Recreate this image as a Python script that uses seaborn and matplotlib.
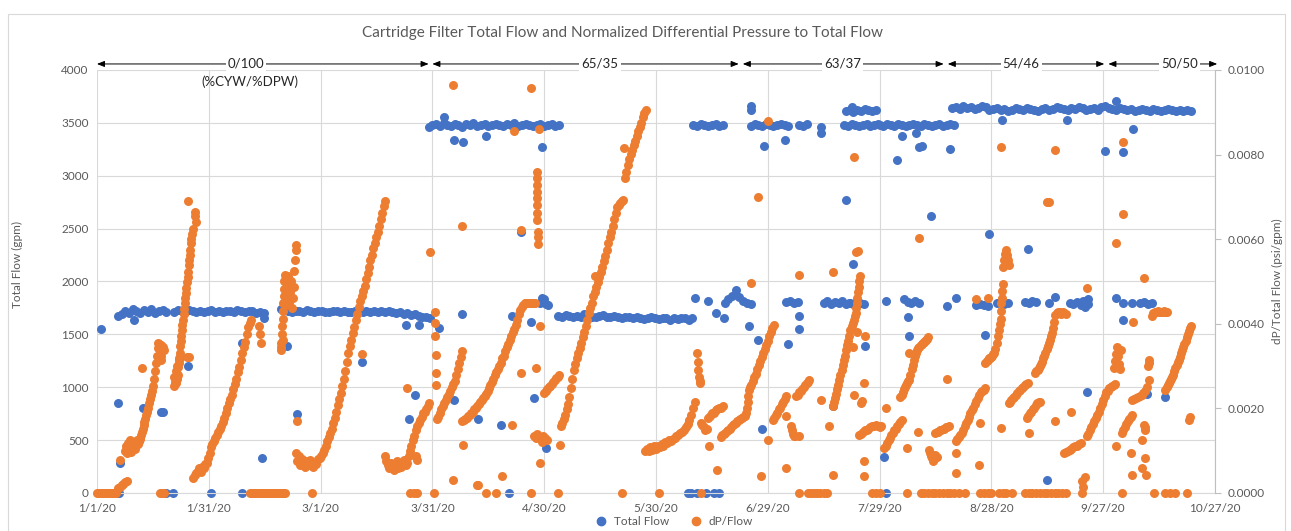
import numpy as np
import pandas as pd
import matplotlib
matplotlib.use('Agg')
import matplotlib.pyplot as plt
import matplotlib.dates as mdates
from matplotlib.lines import Line2D
from matplotlib.patches import Rectangle
import seaborn as sns

# ---- data -------------------------------------------------------------
# days are counted from 1/1/20; runs are (first day, spacing in days, readings)

# Total flow (gpm)
flow_runs = [
    (5.6, 1, [1670, 1690, 1720, 1700, 1740, 1720, 1700, 1730, 1710, 1740, 1700, 1720, 1730, 1710]),
    (20.7, 1, [1710, 1730, 1720, 1710, 1730, 1720, 1715, 1725, 1710, 1720, 1730, 1715, 1720,
               1710, 1725, 1720, 1715, 1730, 1720, 1710, 1725, 1720, 1700, 1715, 1705]),
    (49.3, 1, [1740, 1730, 1720, 1710, 1725, 1720, 1715, 1730, 1720, 1710, 1725, 1720, 1715, 1710,
               1720, 1725, 1715, 1720, 1710, 1715, 1720, 1725, 1715, 1720, 1710, 1720, 1715, 1725,
               1710, 1720, 1715, 1700, 1710, 1690, 1700, 1680, 1690, 1670, 1660, 1660, 1650]),
    (89, 1, [3460, 3480, 3490, 3470, 3500, 3480, 3470, 3490, 3480, 3460, 3490, 3480, 3500, 3470,
             3480, 3490, 3470, 3480, 3490, 3480, 3470, 3490, 3480, 3500, 3470, 3480, 3490, 3480,
             3470, 3480, 3490, 3470, 3480, 3490, 3470, 3480]),
    (119, 0.5, [1800, 1840, 1830, 1790, 1780]),
    (123.8, 1, [1670, 1665, 1680, 1670, 1660, 1675, 1665, 1690, 1670, 1660, 1665, 1670, 1680,
                1660, 1665, 1670, 1660, 1655, 1665, 1660, 1650, 1660, 1655, 1645, 1650, 1660,
                1650, 1645, 1655, 1650, 1640, 1650, 1645, 1655, 1650, 1640, 1650]),
    (160, 1, [3480, 3470, 3490, 3480, 3470, 3480, 3490, 3470, 3480]),
    (168.4, 1, [1800, 1830, 1860, 1920, 1850, 1820, 1800, 1790]),
    (175.5, 1, [3470, 3490, 3480, 3470, 3490, 3480, 3470, 3480, 3490, 3480, 3470]),
    (185, 1, [1810, 1820, 1800, 1810]),
    (188.5, 1, [3480, 3470, 3490]),
    (195, 1, [1800, 1820, 1790, 1810, 1800, 1820, 1790, 1800]),
    (200.5, 1, [3480, 3470, 3490, 3480, 3470, 3480, 3490, 3470, 3480, 3490]),
    (201, 1, [3610, 3620, 3600, 3620, 3610, 3630, 3620, 3610, 3620]),
    (201.8, 1, [1800, 1790, 1810, 1800, 1790]),
    (210, 1, [3480, 3470, 3490, 3480, 3470, 3490, 3480, 3470, 3480, 3490, 3480, 3470, 3490,
              3480, 3470, 3480, 3490, 3470, 3480, 3490, 3480]),
    (216.5, 1, [1830, 1810, 1800, 1820, 1800]),
    (229.5, 1, [3640, 3650, 3630, 3660, 3640, 3650, 3630, 3640, 3660, 3650,
                3620, 3630, 3640, 3620, 3630, 3610, 3620, 3640, 3630, 3620,
                3640, 3630, 3620, 3610, 3630, 3640, 3620, 3630, 3650, 3640,
                3630, 3620, 3640, 3630, 3650, 3640, 3620, 3630, 3640, 3620,
                3650, 3660, 3640, 3630, 3620, 3640, 3630, 3620, 3630, 3610,
                3620, 3630, 3620, 3610, 3630, 3620, 3610, 3620, 3630, 3620,
                3610, 3620, 3610, 3620, 3610]),
    (236, 1, [1780, 1790, 1780, 1770]),
    (241.5, 1, [1800, 1820, 1790, 1800]),
    (249, 1, [1810, 1800, 1820, 1810]),
    (261, 1, [1800, 1790, 1810, 1800, 1820, 1790]),
    (264, 0.5, [1780, 1820, 1760, 1800, 1830]),
    (280, 1, [1800, 1810, 1790, 1800]),
]
flow_spots = [
    (1.1, 1550), (5.6, 850), (6.3, 283), (10, 1640), (12.3, 800), (17.3, 770), (17.7, 770),
    (22.2, 1290), (24.4, 1200), (38.8, 1420), (44.4, 330), (44.8, 1650), (51, 1390),
    (53.7, 750), (71.2, 1240), (83, 1590), (83.6, 700), (85.4, 930), (86.5, 1590),
    (91.8, 1560), (93, 3560), (95.8, 3340), (95.8, 880), (98, 1695), (98.3, 3320),
    (102.2, 700), (104.4, 3380), (108.3, 645), (111.5, 1670), (113.8, 2470), (116.4, 1620),
    (117.3, 900), (119.4, 3270), (120.4, 425), (160.4, 1840), (164, 1820), (166, 1700),
    (168.2, 1650), (175, 1575), (175.5, 3620), (175.6, 3660), (177.3, 1450), (178.5, 605),
    (179, 3280), (184.5, 3340), (185.4, 1410), (188.5, 1670), (188.5, 1550), (194.3, 3460),
    (194.3, 3400), (197.6, 820), (201, 2770), (202.3, 3630), (202.5, 3650), (203, 2170),
    (206, 1386), (211.2, 337), (211.6, 1820), (214.7, 3150), (216, 3380), (217.7, 1660),
    (218, 1480), (219.7, 3400), (220.5, 3270), (221.4, 3280), (223.7, 2620), (228, 1770),
    (229, 3250), (230.4, 1840), (238.2, 1490), (239.5, 2450), (242.9, 3530), (249.7, 2310),
    (255, 120), (255.4, 1800), (257, 1850), (260.4, 3530), (265.7, 955), (270.6, 3230),
    (273.5, 3710), (273.5, 1840), (275.3, 3220), (275.3, 1800), (275.3, 1640), (277.8, 1800),
    (278, 3440), (281.8, 940), (286.7, 905),
]
flow_zero_days = [4.5, 5.2, 5.8, 18.6, 20.4, 30.7, 38.8, 44.2, 50.0, 110.5,
                  158.6, 159.5, 161, 163.5, 165.5, 167, 211.6]

# dP / total flow, in units of 1e-4 psi/gpm
dpf_runs = [
    (5.6, 0.5, [1.2, 1.5, 1.9, 2.2, 2.5, 2.8]),
    (7.4, 0.3, [10.0, 11.0, 9.5, 11.8, 10.5, 12.5, 9.8, 11.2, 12.0, 10.5, 11.8, 12.5, 11.5, 12.2, 12.8]),
    (11, 0.25, [11.8, 12.4, 13.0, 13.8, 14.5, 15.2, 16.0, 16.8, 17.5, 18.4, 19.2, 20.2, 21.2,
                22.2, 23.2, 24.2, 25.2, 27.0, 28.8, 30.8, 32.5, 34.2, 35.5]),
    (16.6, 0.25, [35.2, 34.8, 35.0, 34.0, 34.5, 33.8]),
    (20.6, 0.2, [25.2, 27.5, 26.2, 28.8, 27.0, 30.0, 28.0, 31.5]),
    (21.3, 0.15, [26.0, 27.2, 28.2, 29.8, 30.8, 32.0, 33.2, 34.8, 36.0, 37.2, 38.5, 39.8, 41.0,
                  42.2, 43.5, 44.8, 46.0, 47.2, 48.5, 49.8, 51.0, 52.2, 53.8, 55.0, 56.2, 57.5,
                  59.0, 60.0, 61.2, 62.5]),
    (25.8, 0.4, [3.5, 4.2, 4.8, 5.2, 5.8, 5.0, 6.2, 6.0, 6.8, 7.0]),
    (29.8, 0.4, [8.2, 9.5, 10.8, 11.5, 12.2, 13.0, 13.8, 14.5, 15.2, 15.8, 16.8, 17.8, 18.8,
                 20.0, 21.2, 22.2, 23.2, 24.5, 25.8, 27.0, 28.5, 29.8, 31.5, 33.0, 34.5, 35.8,
                 37.5, 39.2, 40.2, 41.0]),
    (49.4, 0.1, [33.9, 35.5, 37.5, 39.5, 41.2, 43.0, 44.8, 46.5, 48.2, 50.0, 51.5]),
    (50.5, 0.25, [44.5, 46.2, 48.8, 51.2, 45.0, 47.5, 50.0, 43.8, 46.2, 48.8, 52.5, 55.0, 57.5]),
    (53.3, 0.4, [9.5, 7.5, 8.8, 6.5, 8.0, 7.0, 6.2, 7.5, 6.8, 6.5, 7.8, 7.0, 6.2, 7.2, 6.8]),
    (59.4, 0.4, [8.0, 8.2, 8.8, 9.5, 10.2, 11.2, 12.2, 13.2, 14.1, 15.2, 16.5, 17.8, 19.2, 20.8,
                 22.2, 23.6, 25.2, 27.0, 28.8, 31.0, 33.0, 34.8, 36.2, 37.8, 39.2, 40.8, 42.2,
                 44.0, 45.5, 46.5, 47.8, 49.0, 50.5, 52.0, 53.5, 55.0, 56.2, 57.8, 59.0, 60.5,
                 61.8, 63.2, 64.8, 66.2, 67.8, 69.0]),
    (77.2, 0.4, [8.8, 7.5, 6.5, 6.0, 7.0, 6.2, 5.5, 6.5, 7.5, 6.0, 6.8, 6.2, 7.0, 7.8, 6.5, 7.2]),
    (83.6, 0.4, [8.8, 10.0, 11.2, 12.5, 13.5, 14.8, 15.8, 16.5, 17.2, 18.0, 18.8, 19.2, 19.8, 20.5, 21.2]),
    (90.6, 0.1, [42.9, 40.2, 37.0, 32.7, 28.4, 25.6]),
    (91.2, 0.4, [17.5, 18.0, 19.0, 19.8, 20.5, 21.2, 22.0, 22.8, 23.5, 24.2, 25.0, 25.8, 26.5,
                 27.8, 29.2, 30.8, 32.2, 33.5]),
    (98, 0.4, [17.0, 17.2, 17.5, 17.8, 18.1, 18.5, 18.9, 19.2, 19.8, 20.1, 20.5, 21.0, 21.5,
               21.9, 22.4, 22.9, 23.5, 24.2, 24.9, 25.5, 26.2, 27.0, 27.8, 28.5, 29.2, 30.0,
               30.8, 31.8, 32.5, 33.5, 34.4, 35.2, 36.2, 37.2, 38.0, 38.8, 39.8, 41.0, 42.2,
               43.2, 44.0, 44.5, 44.8, 44.8, 45.0, 44.8, 45.0, 44.8, 45.0, 44.9]),
    (118.0, 0.03, [76.0, 74.5, 72.8, 71.2, 69.8, 68.0, 66.2, 64.5, 61.8, 60.5, 58.8]),
    (117.2, 0.5, [13.5, 13.0, 14.0, 13.2, 12.8, 13.5, 13.0, 12.5]),
    (120, 0.4, [23.6, 24.0, 24.5, 25.0, 25.2, 25.8, 26.2, 26.8, 27.2, 27.5, 28.0]),
    (124.4, 0.4, [15.8, 16.5, 17.5, 18.5, 19.8, 21.0, 22.8, 24.8, 27.0, 29.1, 30.5, 31.8, 33.0,
                  34.2, 35.5, 36.8, 38.0, 39.5, 41.0, 42.5, 43.8, 45.0, 46.5, 47.5, 48.8, 49.8,
                  51.0, 52.2, 53.5, 54.8, 56.0, 57.5, 59.0, 60.5, 61.8, 63.2, 64.8, 66.2, 67.5,
                  68.0, 68.5, 69.0, 69.2]),
    (141.6, 0.4, [74.5, 76.0, 77.5, 79.0, 80.2, 81.2, 82.2, 83.2, 84.5, 85.5, 86.5, 87.5, 88.8, 89.8, 90.5]),
    (147, 0.5, [10.0, 10.5, 9.9, 10.8, 10.2, 11.0, 10.5, 11.2, 10.8, 11.5, 11.2, 12.0, 11.8, 12.5,
                12.2, 12.8, 13.0, 13.5, 13.8, 14.2, 14.5, 15.0, 15.5, 16.2, 17.2, 18.5, 20.0, 21.6]),
    (161.0, 0.18, [33.0, 31.0, 29.0, 27.5, 26.5, 26.0]),
    (162, 0.4, [16.5, 16.0, 15.5, 15.0, 15.2]),
    (164, 0.5, [17.8, 18.2, 18.8, 19.0, 19.5, 19.8, 20.0, 20.2, 20.5]),
    (167.4, 0.4, [13.2, 13.6, 13.9, 14.2, 14.6, 15.0, 15.2, 15.6, 16.0, 16.4, 16.6, 17.0, 17.2,
                  17.5, 17.8, 18.0, 18.1, 19.0]),
    (174.4, 0.2, [20.0, 21.5, 23.0, 24.4, 25.0]),
    (175.6, 0.4, [25.5, 26.5, 27.5, 28.2, 29.2, 30.2, 31.2, 32.2, 33.0, 34.0, 35.0, 36.0, 37.0,
                  38.0, 39.0, 39.8]),
    (181.3, 0.4, [17.2, 17.8, 18.5, 19.0, 19.8, 20.2, 21.0, 21.5, 22.2, 22.9]),
    (186.2, 0.3, [15.8, 15.0, 14.0, 13.5, 13.4]),
    (187.6, 0.4, [22.9, 23.2, 23.8, 24.0, 24.5, 25.0, 25.5, 26.0, 26.2, 26.8]),
    (197.4, 0.3, [20.5, 21.5, 22.5, 23.5, 24.5, 25.5, 26.8, 28.0, 29.0, 30.2, 31.5, 32.5, 33.9,
                  35.0, 36.0, 37.2, 38.5, 39.5, 40.2, 41.0, 41.8]),
    (203.6, 0.15, [42.5, 43.8, 45.0, 46.2, 47.5, 48.8, 50.0, 51.2]),
    (204.5, 0.5, [13.8, 14.0, 14.5, 14.8, 15.0, 15.2, 15.5, 15.8, 15.8, 16.0, 15.8, 15.5, 15.8]),
    (211.2, 0.4, [10.6, 11.2, 11.8, 12.5, 13.0, 13.6, 14.2, 14.8, 15.2, 15.8, 16.2, 16.8, 17.2]),
    (215.6, 0.3, [22.8, 23.2, 23.8, 24.5, 25.0, 25.5, 26.0, 26.5, 26.8, 28.0, 29.2, 30.2, 31.5,
                  32.5, 33.2, 33.8, 34.2, 34.5, 35.0, 35.2, 35.5, 35.8, 36.0, 36.2, 36.5, 36.8]),
    (223.2, 0.3, [10.2, 9.5, 8.8, 8.2, 7.5, 8.0, 9.0, 8.5]),
    (225, 0.4, [14.2, 14.4, 14.5, 14.8, 15.0, 15.1, 15.2, 15.5, 15.6, 15.8]),
    (230.4, 0.4, [12.2, 12.8, 13.2, 13.8, 14.2, 15.0, 15.8, 16.5, 17.2, 18.0, 18.8, 19.5, 20.2,
                  21.0, 21.8, 22.5, 23.2, 23.8, 24.2, 24.4, 24.8]),
    (238.4, 0.3, [30.8, 31.2, 31.5, 31.8, 32.0, 32.2, 32.5, 32.8, 33.0, 34.0, 35.5, 37.0, 38.5, 40.0]),
    (242.5, 0.1, [41.2, 43.0, 44.8, 46.2, 47.8, 49.5]),
    (243.2, 0.25, [53.5, 55.0, 56.5, 57.5, 56.2, 55.0, 53.8]),
    (244.6, 0.4, [21.2, 21.6, 22.0, 22.4, 22.8, 23.1, 23.6, 24.0, 24.4, 24.8, 25.1, 25.5, 25.8, 26.0]),
    (249.5, 0.4, [17.8, 18.2, 18.8, 19.2, 19.8, 20.2, 20.8, 21.2, 21.6]),
    (251.8, 0.3, [28.4, 28.8, 29.1, 29.5, 30.0, 30.5, 31.0, 31.8, 32.5, 33.2, 34.0, 34.8, 35.5,
                  36.2, 37.0, 37.8, 39.0, 40.5, 42.0, 42.5, 42.8, 42.5, 42.8, 42.2, 42.5, 42.8,
                  42.5, 42.2]),
    (259.5, 0.5, [9.4, 9.8, 10.0, 10.2, 10.5, 10.8, 11.0, 11.2, 11.5, 11.8]),
    (265.6, 0.4, [13.4, 14.0, 14.8, 15.5, 16.2, 17.0, 17.8, 18.5, 19.2, 20.0, 21.0, 22.0, 23.0,
                  23.8, 24.2, 24.8, 25.0, 25.2, 25.5, 25.8]),
    (272.8, 0.3, [29.5, 31.2, 32.8, 34.5, 32.5, 30.5, 29.2, 33.8]),
    (275, 0.4, [14.2, 14.8, 15.5, 16.2, 17.0, 17.5, 18.0, 18.5]),
    (277.8, 0.5, [22.0, 22.2, 22.5, 22.8, 23.0, 23.2, 23.6, 24.0, 25.0, 26.8]),
    (283, 0.4, [41.8, 42.5, 42.8, 42.9, 43.0, 42.9, 42.8, 42.9, 43.0, 42.9, 42.8]),
    (286.7, 0.3, [24.4, 25.0, 25.5, 26.0, 26.5, 27.0, 27.5, 28.0, 28.8, 29.5, 30.2, 31.0, 31.5,
                  32.2, 33.0, 33.8, 34.5, 35.2, 36.0, 36.8, 37.5, 38.2, 39.0, 39.4]),
]
dpf_spots = [
    (6.3, 7.9), (12, 29.5), (17.1, 32.5), (17.2, 31.5), (17.9, 33.8), (24.4, 69.1),
    (26.3, 66.5), (26.4, 65.5), (26.5, 64.0), (24.1, 32.2), (24.8, 32.2), (43.5, 39.4),
    (43.8, 37.5), (44, 35.5), (53.5, 58.6), (49.5, 34.5), (49.8, 36.2), (53.7, 17.0),
    (71.2, 32.8), (83.3, 24.8), (85.6, 8.8), (85.8, 7.9), (89.4, 56.9), (95.5, 96.5),
    (98, 63.0), (98.1, 11.4), (95.6, 3.0), (102, 2.0), (113.8, 62.2), (116.4, 95.8),
    (111.8, 85.5), (118.7, 86.0), (119, 39.4), (113.8, 28.4), (117.8, 29.5), (111.5, 16.1),
    (108.8, 4.0), (102.2, 2.0), (119, 7.0), (119.4, 12.0), (124.3, 11.4), (141.4, 81.5),
    (133.6, 51.2), (164.2, 11.0), (166.3, 5.5), (180, 12.5), (178.2, 4.0), (175.5, 49.6),
    (177.3, 70.0), (180, 88.0), (184.9, 18.1), (184.9, 5.9), (188.5, 13.4), (194.3, 22.0),
    (196.5, 15.8), (197.4, 4.2), (188.5, 51.5), (197.4, 52.2), (203.7, 57.0), (203.2, 79.5),
    (203.2, 23.2), (204.3, 57.2), (206.2, 37.0), (205.8, 26.0), (204.9, 21.2), (205.3, 21.8),
    (205.8, 7.5), (205.8, 3.9), (203.0, 34.5), (204.0, 38.0), (211.6, 20.0), (217.9, 33.0),
    (217.4, 10.6), (220.4, 14.5), (220.5, 60.2), (228.1, 26.9), (230.4, 9.4), (230.4, 4.7),
    (236.6, 6.7), (237, 16.5), (236, 45.8), (239, 46.0), (242.7, 15.4), (242.7, 81.8),
    (255, 68.9), (250, 14.2), (253, 21.6), (257.2, 17.0), (261.5, 19.2), (257, 81.1),
    (255.4, 68.8), (264.3, 2.8), (264.5, 1.5), (265, 3.8), (273.5, 11.2), (277.6, 9.4),
    (277.8, 4.2), (273.5, 59.2), (275.3, 66.0), (275.3, 83.0), (280.9, 50.8), (265.7, 48.5),
    (278, 40.5), (282.2, 31.5), (282.3, 30.8), (282.1, 30.0), (281, 16.1), (281.1, 15.0),
    (281.2, 15.5), (280.4, 12.5), (281.3, 8.2), (280.4, 5.9), (281.6, 4.2), (293, 17.2),
    (293.2, 18.0),
]
dpf_zero_days = [0, 0.5, 1, 1.5, 2, 2.5, 3, 3.5, 4, 4.5, 5, 16.9, 17.5, 18.1,
                 41, 41.5, 42, 42.5, 43, 43.5, 44, 44.5, 45, 45.5, 46, 46.5, 47, 47.5,
                 48, 48.5, 49, 49.5, 50, 50.5, 57.8, 84, 85, 86, 90.4, 104.5, 107, 116.6,
                 123.8, 141, 150.8, 162.1, 188.5, 190.7, 191.5, 192.3, 193.1, 194, 195, 196,
                 208, 209, 210, 217.4, 221, 222, 223, 224, 225, 226, 227, 228, 229, 230,
                 231.3, 233, 237, 238, 239, 240, 242, 243, 244, 245.5, 249, 250, 251, 252,
                 253, 254, 255, 256, 257, 258, 259, 260, 264.4, 275, 283.6, 286.7, 288,
                 289.2, 292.5]

# blend regimes shown across the top (%CYW/%DPW)
regime_labels = ['0/100', '65/35', '63/37', '54/46', '50/50']
regime_start = [0, 90, 173.3, 228.3, 271.4]
regime_end = [89, 172.2, 227.2, 270.3, 300.6]
regime_label_day = [40, 135, 200, 248, 290.5]

tick_dates = pd.date_range('2020-01-01', '2020-10-27', freq='30D')


def collect(runs, spots, zero_days):
    days, vals = [], []
    for start, step, readings in runs:
        for i, v in enumerate(readings):
            days.append(start + i * step)
            vals.append(v)
    for d, v in spots:
        days.append(d)
        vals.append(v)
    for d in zero_days:
        days.append(d)
        vals.append(0)
    dates = pd.Timestamp('2020-01-01') + pd.to_timedelta(np.array(days, dtype=float), unit='D')
    return pd.DataFrame({'date': dates, 'value': vals})


flow_df = collect(flow_runs, flow_spots, flow_zero_days)
dpf_df = collect(dpf_runs, dpf_spots, dpf_zero_days)
dpf_df['value'] = dpf_df['value'] * 1e-4  # to psi/gpm

# ---- plot -------------------------------------------------------------
sns.set_style('white')
plt.rcParams['font.family'] = ['Lato', 'DejaVu Sans']

blue = '#4472C4'
orange = '#ED7D31'
grey_txt = '#595959'
grid = '#d9d9d9'

fig = plt.figure(figsize=(12.91, 5.31), dpi=100)
ax1 = fig.add_axes([0.0751, 0.0716, 0.8660, 0.7966])
ax2 = ax1.twinx()

sns.scatterplot(data=flow_df, x='date', y='value', ax=ax1, color=blue, s=42,
                linewidth=0, legend=False)
sns.scatterplot(data=dpf_df, x='date', y='value', ax=ax2, color=orange, s=42,
                linewidth=0, legend=False)
for ax in (ax1, ax2):
    for c in ax.collections:
        c.set_clip_on(False)

x0 = mdates.date2num(pd.Timestamp('2020-01-01'))
ax1.set_xlim(x0, mdates.date2num(pd.Timestamp('2020-10-27')))
ax1.set_ylim(0, 4000)
ax2.set_ylim(0, 0.01)

ax1.set_xticks(mdates.date2num(tick_dates))
ax1.set_xticklabels([f'{d.month}/{d.day}/{d.year % 100}' for d in tick_dates])
ax1.set_yticks(range(0, 4001, 500))
r_ticks = np.arange(0, 0.0101, 0.002)
ax2.set_yticks(r_ticks)
ax2.set_yticklabels([f'{t:.4f}' for t in r_ticks])

ax1.grid(True, color=grid, lw=0.8)
ax1.set_axisbelow(True)
for ax in (ax1, ax2):
    for s in ax.spines.values():
        s.set_visible(False)
ax1.spines['bottom'].set_visible(True)
ax1.spines['bottom'].set_color(grid)
ax2.spines['right'].set_visible(True)
ax2.spines['right'].set_color('#bfbfbf')

ax1.tick_params(axis='both', length=0, labelsize=8.5, labelcolor=grey_txt, pad=6)
ax1.tick_params(axis='x', pad=7)
ax2.tick_params(axis='y', length=4, color='#bfbfbf', labelsize=8.5, labelcolor=grey_txt, pad=5)

ax1.set_xlabel('')
ax1.set_ylabel('Total Flow (gpm)', fontsize=8.5, color=grey_txt)
ax1.yaxis.set_label_coords(-0.066, 0.54)
ax2.set_ylabel('dP/Total Flow (psi/gpm)', fontsize=8.5, color=grey_txt, rotation=90)
ax2.yaxis.set_label_coords(1.051, 0.5)

fig.text(0.482, 0.938, 'Cartridge Filter Total Flow and Normalized Differential Pressure to Total Flow',
         ha='center', va='center', fontsize=11, color=grey_txt)

# regime arrows
y_arrow = 4057
for lab, a, b, m in zip(regime_labels, regime_start, regime_end, regime_label_day):
    ax1.annotate('', xy=(x0 + b, y_arrow), xytext=(x0 + a, y_arrow),
                 arrowprops=dict(arrowstyle='<|-|>,head_length=0.45,head_width=0.18',
                                 color='black', lw=0.7, shrinkA=0, shrinkB=0),
                 annotation_clip=False)
    ax1.text(x0 + m, y_arrow, lab, ha='center', va='center', fontsize=9.5, color='#262626',
             bbox=dict(facecolor='white', edgecolor='none', pad=1.5), zorder=6, clip_on=False)
ax1.text(x0 + 41, 3885, '(%CYW/%DPW)', ha='center', va='center', fontsize=9.5, color='#262626')

handles = [Line2D([], [], marker='o', ls='', color=blue, markersize=6, label='Total Flow'),
           Line2D([], [], marker='o', ls='', color=orange, markersize=6, label='dP/Flow')]
fig.legend(handles=handles, loc='center', bbox_to_anchor=(0.52, 0.018), ncol=2, frameon=False,
           fontsize=8.5, handletextpad=0.1, columnspacing=1.2, labelcolor=grey_txt)

fig.patches.append(Rectangle((8 / 1291, -0.01), 1277 / 1291, 517 / 531 + 0.01,
                             transform=fig.transFigure, fill=False, edgecolor=grid, lw=0.8))

fig.savefig('out.png', dpi=100)
